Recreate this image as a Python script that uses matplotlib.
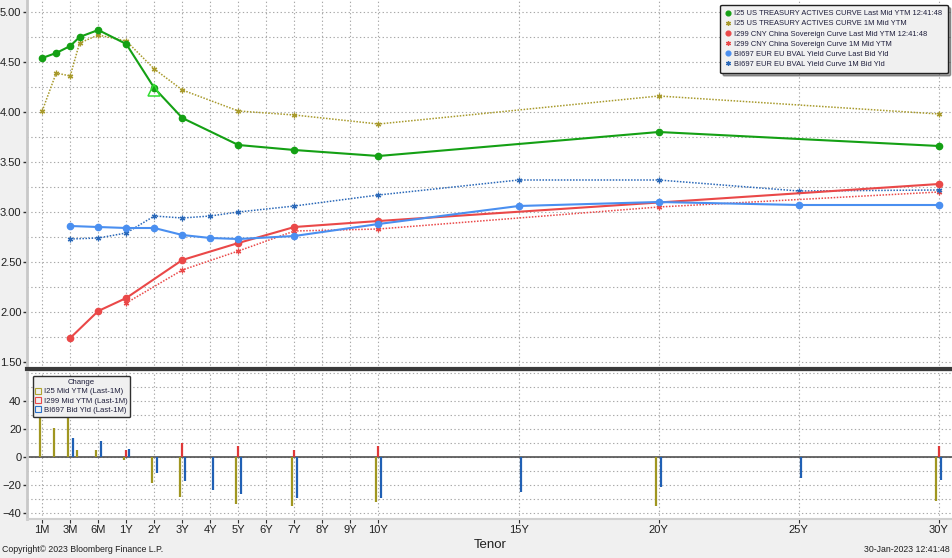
import numpy as np
import matplotlib.pyplot as plt
from matplotlib.lines import Line2D
from matplotlib import transforms

plt.rcParams['font.family'] = ['Liberation Sans', 'DejaVu Sans']

# tick tenors on the axis
tick_labels = ['1M', '3M', '6M', '1Y', '2Y', '3Y', '4Y', '5Y', '6Y', '7Y', '8Y', '9Y', '10Y',
               '15Y', '20Y', '25Y', '30Y']

# US treasury actives (last / 1M ago)
us_tenors = ['1M', '2M', '3M', '4M', '6M', '1Y', '2Y', '3Y', '5Y', '7Y', '10Y', '20Y', '30Y']
us_last = [4.54, 4.59, 4.66, 4.75, 4.82, 4.68, 4.24, 3.94, 3.67, 3.62, 3.56, 3.80, 3.66]
us_1m = [4.01, 4.39, 4.36, 4.69, 4.77, 4.71, 4.43, 4.22, 4.01, 3.97, 3.88, 4.16, 3.98]

# China sovereign
cn_tenors = ['3M', '6M', '1Y', '3Y', '5Y', '7Y', '10Y', '30Y']
cn_last = [1.74, 2.01, 2.14, 2.52, 2.69, 2.85, 2.91, 3.28]
cn_1m_tenors = ['1Y', '3Y', '5Y', '7Y', '10Y', '20Y', '30Y']
cn_1m = [2.09, 2.42, 2.61, 2.81, 2.83, 3.05, 3.20]

# EU BVAL
eu_tenors = ['3M', '6M', '1Y', '2Y', '3Y', '4Y', '5Y', '7Y', '10Y', '15Y', '20Y', '25Y', '30Y']
eu_last = [2.86, 2.85, 2.84, 2.84, 2.77, 2.74, 2.73, 2.76, 2.88, 3.06, 3.10, 3.07, 3.07]
eu_1m = [2.73, 2.74, 2.79, 2.96, 2.94, 2.96, 3.00, 3.06, 3.17, 3.32, 3.32, 3.21, 3.22]

# change bars (bp, last - 1M)
us_chg = [52, 21, 30, 5, 5, -2, -18, -28, -33, -35, -32, -35, -31]
cn_chg_tenors = ['1Y', '3Y', '5Y', '7Y', '10Y', '30Y']
cn_chg = [5, 10, 8, 5, 8, 8]
eu_chg = [14, 12, 6, -11, -17, -23, -26, -29, -29, -25, -21, -15, -16]


def to_years(t):
    # '3M' -> 0.25, '10Y' -> 10
    if t.endswith('M'):
        return int(t[:-1]) / 12.0
    return float(t[:-1])


def yrs(lst):
    return np.array([to_years(t) for t in lst])


# Bloomberg style tenor axis: months squeezed, years linear
kn_y = np.array([-1 / 12, 1 / 12, 0.25, 0.5, 1.0, 40.0])
kn_p = np.array([-1.0, 0.0, 1.0, 2.0, 3.0, 42.0])


def fwd(x):
    return np.interp(x, kn_y, kn_p)


def inv(p):
    return np.interp(p, kn_p, kn_y)


GREEN = '#14a014'
OLIVE = '#a89a2c'
RED = '#ea4848'
BLUE = '#4a8ff0'
DBLUE = '#2a68b8'
GRID = '#a8a8a8'
TXT = '#1e1e3c'

fig = plt.figure(figsize=(9.53, 5.58), dpi=100, facecolor='#f0f0f0')
ax1 = fig.add_axes([27 / 953, 189 / 558, 926 / 953, 369 / 558])
ax2 = fig.add_axes([27 / 953, 39 / 558, 926 / 953, 147 / 558], sharex=ax1)

for ax in (ax1, ax2):
    ax.set_xscale('function', functions=(fwd, inv))
    ax.set_facecolor('white')
    for s in ('top', 'right'):
        ax.spines[s].set_visible(False)
    ax.spines['left'].set_color('#c8c8c8')
    ax.spines['left'].set_linewidth(2)
    ax.set_xticks(yrs(tick_labels))
    ax.grid(True, which='both', color=GRID, linestyle=(0, (1.2, 2.2)), linewidth=0.8)
    ax.set_axisbelow(True)
    ax.tick_params(axis='y', which='major', length=3, width=1, color='#303030', labelsize=8,
                   pad=1, labelcolor='#202020')
    ax.tick_params(axis='y', which='minor', length=0)

ax1.set_xlim(-0.007, 30.5)

# top panel: curves
ax1.plot(yrs(us_tenors), us_1m, color=OLIVE, ls=(0, (1, 1)), lw=1.1,
         marker=(6, 2, 0), ms=4, mew=0.9, zorder=3)
ax1.plot(yrs(us_tenors), us_last, color=GREEN, lw=1.5, marker='o', ms=4.5, zorder=4)
ax1.plot(yrs(cn_1m_tenors), cn_1m, color=RED, ls=(0, (1, 1)), lw=1.1,
         marker=(6, 2, 0), ms=4, mew=0.9, zorder=3)
ax1.plot(yrs(cn_tenors), cn_last, color=RED, lw=1.5, marker='o', ms=4.5, zorder=4)
ax1.plot(yrs(eu_tenors), eu_1m, color=DBLUE, ls=(0, (1, 1)), lw=1.1,
         marker=(6, 2, 0), ms=4, mew=0.9, zorder=3)
ax1.plot(yrs(eu_tenors), eu_last, color=BLUE, lw=1.5, marker='o', ms=4.5, zorder=4)
# highlight triangle on the 2Y treasury
ax1.plot([2.0], [4.22], marker='^', ms=8, mfc='none', mec='#33dd33', mew=1.1, zorder=5)

ax1.set_ylim(1.43, 5.12)
ax1.set_yticks(np.arange(1.5, 5.01, 0.5))
ax1.set_yticks(np.arange(1.5, 5.01, 0.25), minor=True)
ax1.set_yticklabels([f'{v:.2f}' for v in np.arange(1.5, 5.01, 0.5)])
ax1.tick_params(axis='x', which='both', length=0, labelbottom=False)
ax1.spines['bottom'].set_color('#3a3a3a')
ax1.spines['bottom'].set_linewidth(3)

leg_items = [
    (GREEN, 'o', 'I25 US TREASURY ACTIVES CURVE Last Mid YTM 12:41:48'),
    (OLIVE, (6, 2, 0), 'I25 US TREASURY ACTIVES CURVE 1M Mid YTM'),
    (RED, 'o', 'I299 CNY China Sovereign Curve Last Mid YTM 12:41:48'),
    (RED, (6, 2, 0), 'I299 CNY China Sovereign Curve 1M Mid YTM'),
    (BLUE, 'o', 'BI697 EUR EU BVAL Yield Curve Last Bid Yld'),
    (DBLUE, (6, 2, 0), 'BI697 EUR EU BVAL Yield Curve 1M Bid Yld'),
]
handles = [Line2D([], [], ls='none', marker=m, color=c, ms=3.5, mew=0.9) for c, m, _ in leg_items]
leg = ax1.legend(handles, [t for _, _, t in leg_items], loc='upper right', fontsize=5.4,
                 frameon=True, fancybox=True, shadow=True, handlelength=0.8, handletextpad=0.4,
                 labelspacing=0.38, borderpad=0.7, bbox_to_anchor=(0.9985, 0.997))
leg.get_frame().set_facecolor('#f0f0f0')
leg.get_frame().set_edgecolor('#202020')
leg.get_frame().set_alpha(1)
for t in leg.get_texts():
    t.set_color(TXT)

# bottom panel: change bars
off_l = transforms.offset_copy(ax2.transData, fig=fig, x=-2.5, y=0, units='dots')
off_r = transforms.offset_copy(ax2.transData, fig=fig, x=2.5, y=0, units='dots')
ax2.vlines(yrs(us_tenors), 0, us_chg, color='#a09620', lw=1.6, transform=off_l, zorder=3)
ax2.vlines(yrs(cn_chg_tenors), 0, cn_chg, color='#e03838', lw=1.6, zorder=3)
ax2.vlines(yrs(eu_tenors), 0, eu_chg, color='#2060b4', lw=1.6, transform=off_r, zorder=3)
ax2.axhline(0, color='#505050', lw=1.2, zorder=2)

ax2.set_ylim(-44, 61)
ax2.set_yticks([-40, -20, 0, 20, 40])
ax2.set_yticks(np.arange(-40, 61, 10), minor=True)
ax2.set_xticklabels(tick_labels)
ax2.tick_params(axis='x', which='major', length=3, color='#303030', labelsize=8, pad=1,
                labelcolor='#202020')
ax2.tick_params(axis='x', which='minor', length=0)
ax2.spines['bottom'].set_color('#d0d0d0')
ax2.spines['bottom'].set_linewidth(1.5)
ax2.set_xlabel('Tenor', fontsize=9.5, labelpad=3, color='#202020')

chg_items = [('#b0a430', 'I25 Mid YTM (Last-1M)'),
             ('#e84848', 'I299 Mid YTM (Last-1M)'),
             ('#2a70c8', 'BI697 Bid Yld (Last-1M)')]
h2 = [Line2D([], [], ls='none', marker='s', mfc='none', mec=c, ms=4.5, mew=0.8) for c, _ in chg_items]
leg2 = ax2.legend(h2, [t for _, t in chg_items], loc='upper left', title='Change', fontsize=5.6,
                  title_fontsize=5.6, frameon=True, fancybox=True, handlelength=0.6,
                  handletextpad=0.4, labelspacing=0.25, borderpad=0.4,
                  bbox_to_anchor=(0.002, 1.0))
leg2.get_frame().set_facecolor('#f0f0f0')
leg2.get_frame().set_edgecolor('#303030')
leg2.get_frame().set_alpha(1)
for t in leg2.get_texts():
    t.set_color(TXT)
leg2.get_title().set_color(TXT)

fig.text(2 / 953, 4 / 558, 'Copyright\u00a9 2023 Bloomberg Finance L.P.', fontsize=6.3,
         color='#202020', ha='left', va='bottom')
fig.text(950 / 953, 4 / 558, '30-Jan-2023 12:41:48', fontsize=6.3, color='#202020',
         ha='right', va='bottom')

fig.savefig('out.png', dpi=100, facecolor=fig.get_facecolor())
